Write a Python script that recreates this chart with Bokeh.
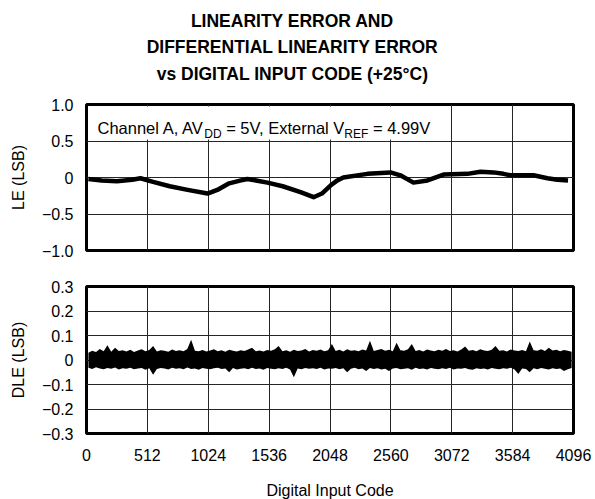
from bokeh.plotting import figure
from bokeh.models import Range1d, FixedTicker, Label, BoxAnnotation
from bokeh.layouts import column
from bokeh.core.properties import value
from bokeh.embed import file_html
from bokeh.resources import INLINE

# ---------------- data ----------------
title_lines = ["LINEARITY ERROR AND",
               "DIFFERENTIAL LINEARITY ERROR",
               "vs DIGITAL INPUT CODE (+25°C)"]

x_ticks = [0, 512, 1024, 1536, 2048, 2560, 3072, 3584, 4096]
x_tick_labels = ["0", "512", "1024", "1536", "2048", "2560", "3072", "3584", "4096"]
le_ticks = [-1, -0.5, 0, 0.5, 1]
le_tick_labels = ["−1.0", "−0.5", "0", "0.5", "1.0"]
dle_ticks = [-0.3, -0.2, -0.1, 0, 0.1, 0.2, 0.3]
dle_tick_labels = ["−0.3", "−0.2", "−0.1", "0", "0.1", "0.2", "0.3"]

# LE (LSB), read along the centre of the trace
le_code = [16, 128, 256, 384, 454, 560, 700, 850, 1018, 1100, 1200, 1300, 1354,
           1522, 1650, 1800, 1910, 1980, 2052, 2110, 2160, 2363, 2557, 2640,
           2750, 2868, 3003, 3204, 3314, 3423, 3507, 3566, 3760, 3877, 3960, 4050]
le_value = [-0.02, -0.04, -0.05, -0.03, -0.01, -0.06, -0.12, -0.17, -0.22, -0.17,
            -0.08, -0.04, -0.02, -0.07, -0.12, -0.20, -0.27, -0.22, -0.11, -0.04,
            0.00, 0.05, 0.07, 0.03, -0.07, -0.04, 0.04, 0.05, 0.08, 0.07, 0.05,
            0.03, 0.03, -0.01, -0.03, -0.04]

# DLE envelope (milli-LSB), max and min of the trace in each 32-code bin
dle_code = [16 + 32 * k for k in range(128)]
dle_max_mlsb = [30, 38, 33, 45, 36, 60, 34, 50, 37, 40,
                35, 42, 33, 39, 44, 36, 41, 57, 35, 40,
                38, 34, 43, 37, 40, 36, 45, 83, 38, 36,
                41, 35, 39, 44, 36, 40, 34, 42, 38, 35,
                40, 37, 43, 50, 36, 39, 35, 41, 38, 44,
                57, 36, 40, 34, 42, 37, 39, 45, 35, 41,
                38, 43, 36, 40, 65, 37, 42, 35, 44, 38,
                40, 36, 43, 39, 79, 37, 41, 45, 38, 42,
                36, 70, 40, 38, 44, 65, 37, 41, 35, 43,
                39, 36, 42, 38, 45, 37, 40, 35, 43, 55,
                38, 41, 36, 44, 39, 37, 42, 57, 38, 40,
                35, 43, 39, 37, 41, 36, 76, 40, 38, 44,
                37, 50, 39, 42, 36, 41, 38, 34]
dle_min_mlsb = [-32, -37, -30, -35, -38, -33, -36, -31, -39, -34,
                -36, -32, -38, -35, -33, -40, -34, -60, -37, -33,
                -35, -39, -32, -36, -34, -38, -31, -37, -35, -40,
                -33, -36, -38, -34, -32, -37, -35, -50, -33, -39,
                -36, -34, -38, -32, -37, -35, -40, -33, -36, -38,
                -34, -37, -32, -39, -70, -35, -38, -33, -36, -34,
                -37, -32, -39, -35, -36, -33, -38, -34, -50, -36,
                -32, -38, -35, -45, -33, -37, -34, -39, -36, -45,
                -35, -33, -38, -36, -34, -40, -32, -37, -35, -39,
                -33, -36, -38, -34, -37, -32, -39, -35, -36, -33,
                -38, -40, -34, -37, -35, -39, -33, -36, -38, -34,
                -36, -32, -39, -57, -35, -37, -50, -34, -38, -33,
                -36, -39, -34, -37, -35, -45, -38, -33]
dle_max = [v / 1000 for v in dle_max_mlsb]
dle_min = [v / 1000 for v in dle_min_mlsb]

# ---------------- geometry (page pixels) ----------------
FONT = "Liberation Sans"
W = 595
ML, MR = 86, 22
FRAME_W = W - ML - MR            # 487
TITLE_H = 96
TOP_BT, TOP_FH, TOP_BB = 8, 146, 18
BOT_BT, BOT_FH, BOT_BB = 18, 147, 70
FRAME_TOP = TITLE_H + TOP_BT     # 104


def x_code(px):
    return (px - ML) / FRAME_W * 4096


def y_le(py):
    return 1 - (py - FRAME_TOP) / (TOP_FH / 2)


def style(p):
    p.outline_line_color = "black"
    p.outline_line_width = 3
    p.background_fill_color = "white"
    p.border_fill_color = "white"
    for g in p.grid:
        g.grid_line_color = "#262626"
        g.grid_line_width = 1
        g.grid_line_alpha = 1
    for ax in p.axis:
        ax.axis_line_color = None
        ax.major_tick_line_color = None
        ax.minor_tick_line_color = None
        ax.major_tick_out = 0
        ax.major_tick_in = 0
        ax.minor_tick_out = 0
        ax.minor_tick_in = 0
        ax.major_label_text_font = FONT
        ax.major_label_text_font_size = "16px"
        ax.major_label_text_color = "black"
        ax.axis_label_text_font = FONT
        ax.axis_label_text_font_size = "16px"
        ax.axis_label_text_font_style = "normal"
        ax.axis_label_text_color = "black"


# ---------------- title strip ----------------
# the column aligns this frame with the charts below, so x is given in page px
head = figure(width=W, height=TITLE_H, x_range=Range1d(ML, W - MR),
              y_range=Range1d(TITLE_H, 0), x_axis_type=None, y_axis_type=None,
              output_backend="svg", toolbar_location=None, title=None,
              min_border_left=ML, min_border_right=MR, min_border_top=0,
              min_border_bottom=0)
head.grid.visible = False
head.outline_line_color = None
head.background_fill_color = "white"
head.border_fill_color = "white"
head.text(x=[292, 292, 292], y=[20, 46.5, 73], text=title_lines,
          text_font=value(FONT), text_font_size="17.5px", text_font_style="bold",
          text_color="black", text_align="center", text_baseline="middle")

# ---------------- top: LE ----------------
top = figure(width=W, height=TOP_BT + TOP_FH + TOP_BB,
             x_range=Range1d(0, 4096), y_range=Range1d(-1, 1),
             output_backend="svg", toolbar_location=None, title=None,
             min_border_left=ML, min_border_right=MR, min_border_top=TOP_BT,
             min_border_bottom=TOP_BB)
top.xaxis.visible = False
top.xgrid.ticker = FixedTicker(ticks=x_ticks)
top.yaxis.ticker = FixedTicker(ticks=le_ticks)
top.ygrid.ticker = FixedTicker(ticks=le_ticks)
top.yaxis.major_label_overrides = dict(zip(le_ticks, le_tick_labels))
top.yaxis.axis_label = "LE (LSB)"
style(top)
top.yaxis.major_label_standoff = 13
top.yaxis.axis_label_standoff = 12

top.line(le_code, le_value, line_width=4.5, color="black", line_join="round")

# annotation: Channel A, AV_DD = 5V, External V_REF = 4.99V
CW = {"C": 722, "h": 556, "a": 556, "n": 556, "e": 556, "l": 222, " ": 278,
      "A": 667, ",": 278, "V": 667, "D": 722, "=": 584, "5": 556, "E": 667,
      "x": 500, "t": 278, "r": 333, "R": 722, "F": 611, "4": 556, ".": 278,
      "9": 556}


def tw(s, size):
    return sum(CW[c] for c in s) / 1000 * size


top.add_layout(BoxAnnotation(left=x_code(88), right=x_code(436),
                             top=y_le(106), bottom=y_le(139),
                             fill_color="white", fill_alpha=1, line_color=None))
MAIN, SUB = 16.5, 12
parts = [("Channel A, AV", MAIN, 127.5, -1.5), ("DD", SUB, 133, 0),
         (" = 5V, External V", MAIN, 127.5, -1.5), ("REF", SUB, 133, 0),
         (" = 4.99V", MAIN, 127.5, 0)]
xpx = 97.0
for txt, size, by, kern in parts:
    lead = len(txt) - len(txt.lstrip(" "))
    top.add_layout(Label(x=x_code(xpx + tw(" " * lead, size)), y=y_le(by),
                         text=txt.lstrip(" "), text_font=FONT,
                         text_font_size=f"{size}px", text_color="black",
                         text_baseline="alphabetic", text_align="left"))
    xpx += tw(txt, size) + kern

# ---------------- bottom: DLE ----------------
bot = figure(width=W, height=BOT_BT + BOT_FH + BOT_BB,
             x_range=top.x_range, y_range=Range1d(-0.3, 0.3),
             output_backend="svg", toolbar_location=None, title=None,
             min_border_left=ML, min_border_right=MR, min_border_top=BOT_BT,
             min_border_bottom=BOT_BB)
bot.xaxis.ticker = FixedTicker(ticks=x_ticks)
bot.xgrid.ticker = FixedTicker(ticks=x_ticks)
bot.xaxis.major_label_overrides = dict(zip(x_ticks, x_tick_labels))
bot.yaxis.ticker = FixedTicker(ticks=dle_ticks)
bot.ygrid.ticker = FixedTicker(ticks=dle_ticks)
bot.yaxis.major_label_overrides = dict(zip(dle_ticks, dle_tick_labels))
bot.yaxis.axis_label = "DLE (LSB)"
bot.xaxis.axis_label = "Digital Input Code"
style(bot)
bot.yaxis.major_label_standoff = 13
bot.yaxis.axis_label_standoff = 12
bot.xaxis.major_label_standoff = 15
bot.xaxis.axis_label_standoff = 18

bot.varea(x=dle_code, y1=dle_min, y2=dle_max, fill_color="black", fill_alpha=1)

layout = column(head, top, bot)
open("out.html", "w").write(file_html(layout, INLINE))
